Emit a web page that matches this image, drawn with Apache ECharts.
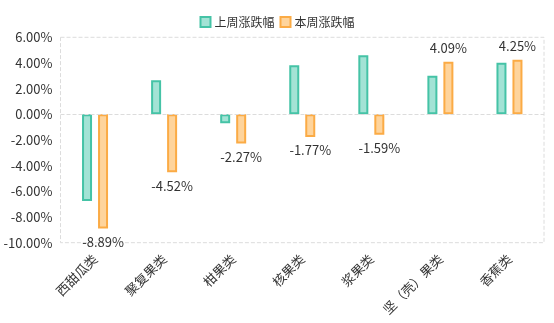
<!DOCTYPE html>
<html><head><meta charset="utf-8">
<script src="https://cdn.jsdelivr.net/npm/echarts@6/dist/echarts.min.js"></script>
<style>html,body{margin:0;padding:0;background:#fff}#c{width:554px;height:323px}</style>
</head><body><div id="c"></div>
<script>
var categories = ['西甜瓜类','聚复果类','柑果类','核果类','浆果类','坚（壳）果类','香蕉类'];
var lastWeek = [-6.76, 2.65, -0.7, 3.82, 4.6, 3.0, 4.02];
var thisWeek = [-8.89, -4.52, -2.27, -1.77, -1.59, 4.09, 4.25];
var seriesNames = ['上周涨跌幅','本周涨跌幅'];

var font = '"Noto Sans CJK SC", "Microsoft YaHei", sans-serif';
var chart = echarts.init(document.getElementById('c'));
chart.setOption({
  animation: false,
  textStyle: {fontFamily: font},
  legend: {
    top: 11, left: 'center', itemWidth: 10, itemHeight: 10, itemGap: 5, icon: 'rect',
    textStyle: {fontSize: 12, color: '#333', fontFamily: font, padding: [0, 0, 0, -1]}
  },
  grid: {left: 60.5, right: 10, top: 37.3, bottom: 80.3, show: true,
    borderColor: '#dcdcdc', borderWidth: 1, borderType: 'dashed'},
  xAxis: {
    type: 'category', data: categories,
    axisLine: {show: false, onZero: false}, axisTick: {show: false},
    axisLabel: {rotate: 45, fontSize: 13, color: '#333', interval: 0, margin: 14, fontFamily: font}
  },
  yAxis: {
    type: 'value', min: -10, max: 6, interval: 2,
    axisLine: {show: false}, axisTick: {show: false}, splitLine: {show: false},
    axisLabel: {fontSize: 13, color: '#333', fontFamily: font, margin: 8,
      formatter: function (v) { return v.toFixed(2) + '%'; }}
  },
  series: [
    {
      name: seriesNames[0], type: 'bar', barWidth: 10, barGap: '60%',
      data: lastWeek,
      itemStyle: {color: '#a3e3d5', borderColor: '#45c3a6', borderWidth: 2},
      markLine: {silent: true, symbol: 'none', label: {show: false},
        lineStyle: {color: '#dcdcdc', type: 'dashed', width: 1},
        data: [{yAxis: 0}]}
    },
    {
      name: seriesNames[1], type: 'bar', barWidth: 10,
      data: thisWeek.map(function (v) {
        return {value: v, label: {position: v < 0 ? 'bottom' : 'top', distance: 7}};
      }),
      itemStyle: {color: '#fed49c', borderColor: '#fbab45', borderWidth: 2},
      label: {show: true, fontSize: 13, color: '#333', fontFamily: font,
        formatter: function (p) { return p.value.toFixed(2) + '%'; }}
    }
  ]
});
</script></body></html>
